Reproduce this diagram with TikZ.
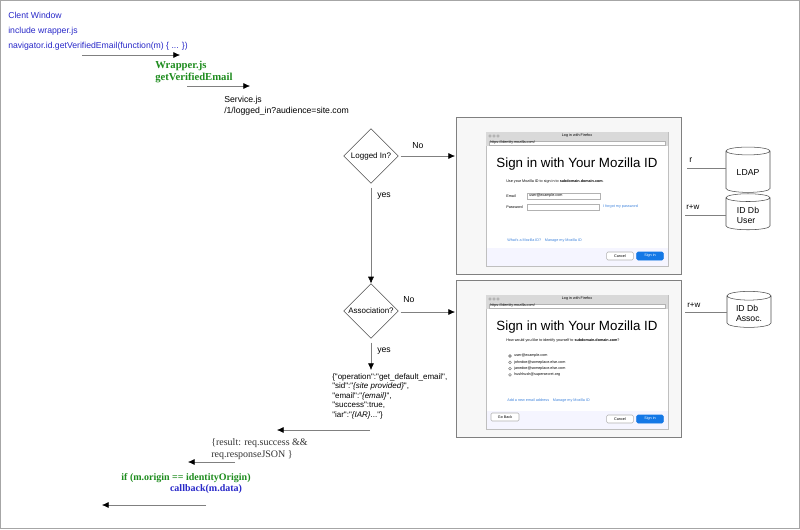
\documentclass[tikz,border=0pt]{standalone}
\usepackage{fontspec}
\setmainfont{Liberation Serif}
\newfontfamily\sansf{Liberation Sans}
\usetikzlibrary{shapes.geometric,arrows.meta}
\definecolor{navblue}{RGB}{40,40,200}
\definecolor{wgreen}{RGB}{30,140,30}
\definecolor{btnblue}{RGB}{20,120,230}
\definecolor{lnkblue}{RGB}{60,130,220}
\begin{document}
\begin{tikzpicture}[x=0.75pt,y=-0.75pt,
        t/.style={font=\sansf\fontsize{6.5}{8}\selectfont, inner sep=0pt, anchor=west},
        blu/.style={t, text=navblue},
        tiny/.style={font=\sansf\fontsize{2.8}{3.4}\selectfont, inner sep=0pt, anchor=west},
        ar/.style={draw=gray, -{Latex[black,length=5pt,width=4.5pt]}, thin},
        ln/.style={draw=gray, thin},
        dec/.style={diamond, draw=black!70, aspect=1, minimum width=41, minimum height=41,
                        inner sep=0pt, font=\sansf\fontsize{6}{7}\selectfont},
        db/.style={cylinder, shape border rotate=90, draw=black!70, aspect=0.25,
                        minimum width=33, minimum height=34, font=\sansf\fontsize{6.5}{7.5}\selectfont,
                        align=left},
        btn/.style={draw=black!30, fill=white, rounded corners=1, inner sep=0pt,
                        minimum width=20, minimum height=6,
                        font=\sansf\fontsize{2.8}{3.4}\selectfont}]
    \useasboundingbox (0,0) rectangle (800,529);
    \draw[gray!70] (0.5,0.5) rectangle (799.5,528.5);

    % client side
    \node[blu] (cw) at (8,15) {Clent Window};
    \node[blu] (inc) at (8,31) {include wrapper.js};
    \node[blu] (nav) at (8,46) {navigator.id.getVerifiedEmail(function(m) \{ ... \})};
    \coordinate (a1) at (82,55);   \coordinate (a1e) at (180,55);
    \draw[ar] (a1) -- (a1e);
    \node[t, font=\bfseries\fontsize{8}{9}\selectfont, text=wgreen, align=left, anchor=north west]
        (wr) at (155,61) {Wrapper.js\\getVerifiedEmail};
    \coordinate (a2) at (187,86);  \coordinate (a2e) at (250,86);
    \draw[ar] (a2) -- (a2e);
    \node[t, align=left, anchor=north west] (svc) at (224,96) {Service.js\\/1/logged\_in?audience=site.com};

    % decisions
    \node[dec] (log) at (371,156) {Logged In?};
    \node[dec] (asc) at (371,311) {Association?};
    \coordinate (s1) at (455,156);  \coordinate (s2) at (455,312);
    \draw[ar] (log.east) ++(2,0) coordinate (n1) -- (s1);
    \draw[ar] (asc.east) ++(2,1) coordinate (n2) -- (s2);
    \node[t] (no1) at (412,146) {No};
    \node[t] (no2) at (403,300) {No};
    \draw[ar] (log.south) ++(0,4) coordinate (y1) -- (asc.north);
    \node[t] (yes1) at (377,196) {yes};
    \coordinate (j0) at (371,370);
    \draw[ar] (asc.south) ++(0,4) coordinate (y2) -- (j0);
    \node[t] (yes2) at (377,351) {yes};

    \node[t, align=left, anchor=north west, font=\sansf\fontsize{6}{7.2}\selectfont] (json) at (332,373)
        {\{"operation":"get\_default\_email",\\"sid":"\textit{\{site provided\}}",\\"email":"\textit{\{email\}}",\\
         "success":true,\\"iar":"\textit{\{IAR\}}..."\}};

    % way back
    \coordinate (b1) at (370,430);  \coordinate (b1e) at (277,430);
    \draw[ar] (b1) -- (b1e);
    \node[t, align=left, anchor=north west, font=\fontsize{7.5}{9}\selectfont, text=black!80]
        (res) at (211,438) {\{result: req.success \&\&\\req.responseJSON \}};
    \coordinate (b2) at (235,462);  \coordinate (b2e) at (188,462);
    \draw[ar] (b2) -- (b2e);
    \node[t, anchor=center, font=\bfseries\fontsize{7.5}{9}\selectfont, text=wgreen] (ifo) at (186,478)
        {if (m.origin == identityOrigin)};
    \node[t, anchor=center, font=\bfseries\fontsize{7.5}{9}\selectfont, text=navblue] (cb) at (206,489)
        {callback(m.data)};
    \coordinate (b3) at (206,505);  \coordinate (b3e) at (102,505);
    \draw[ar] (b3) -- (b3e);

    % sign in screens
    \foreach \y/\h in {117/157,280/157} {
        \draw[gray, fill=gray!6] (456,\y) rectangle (681,\y+\h);
        \draw[black!25, fill=white] (486,\y+15) rectangle (668,\y+\h-8);
        \fill[black!15] (486,\y+15) rectangle (668,\y+29);
        \draw[black!30, fill=white] (489,\y+24) rectangle (665,\y+28.5);
        \node[tiny] at (490,\y+26) {https://identity.mozilla.com/};
        \node[tiny, anchor=center] at (577,\y+19) {Log in with Firefox};
        \foreach \i in {0,1,2} \draw[black!40, fill=white] (490+\i*4,\y+19) circle (1.3);
        \node[font=\sansf\fontsize{10}{12}\selectfont, inner sep=0pt] at (577,\y+47) {Sign in with Your Mozilla ID};
        \fill[blue!4] (486.5,\y+\h-26) rectangle (667.5,\y+\h-8.5);
        \node[btn] at (620,\y+\h-18) {Cancel};
        \node[btn, fill=btnblue, draw=btnblue, text=white] at (650,\y+\h-18) {Sign in};
    }
    \node[tiny] (use) at (506,182) {Use your Mozilla ID to sign in to \textbf{subdomain.domain.com}.};
    \node[tiny] (em) at (506,196) {Email};
    \node[tiny] (pw) at (506,207) {Password};
    \draw[black!30] (527,193) rectangle (600,199) (527,204) rectangle (599,210);
    \node[tiny] at (529,196) {user@example.com};
    \node[tiny, text=lnkblue] at (603,207) {I forgot my password};
    \node[tiny, text=lnkblue] at (507,241) {What's a Mozilla ID?\quad Manage my Mozilla ID};
    \node[tiny] (q) at (506,341) {How would you like to identify yourself to \textbf{subdomain.domain.com}?};
    \foreach \e [count=\i from 0] in {user@example.com,johndoe@someplace.else.com,janedoe@someplace.else.com,hushhush@supersecret.org} {
        \draw[black!50, fill=white] (510,356+\i*6.3) circle (1.4);
        \node[tiny] at (514,356+\i*6.3) {\e};
    }
    \fill[black] (510,356) circle (0.7);
    \node[tiny, text=lnkblue] at (507,401) {Add a new email address\quad Manage my Mozilla ID};
    \node[btn, minimum width=21] at (505,417) {Go Back};

    % stores
    \node[db] (ldap) at (748,173) {LDAP};
    \node[db, minimum height=27] (usr) at (748,215) {ID Db\\User};
    \node[db, minimum height=27] (asoc) at (749,313) {ID Db\\Assoc.};
    \coordinate (r1) at (687,168);  \coordinate (r2) at (685,215);  \coordinate (r3) at (685,312);
    \draw[ln] (r1) -- (ldap.west |- r1);
    \draw[ln] (r2) -- (usr.west |- r2);
    \draw[ln] (r3) -- (asoc.west |- r3);
    \node[t] (lr1) at (689,160) {r};
    \node[t, font=\sansf\fontsize{6}{7}\selectfont] (lr2) at (686,207) {r+w};
    \node[t, font=\sansf\fontsize{6}{7}\selectfont] (lr3) at (687,305) {r+w};
\end{tikzpicture}
\end{document}
